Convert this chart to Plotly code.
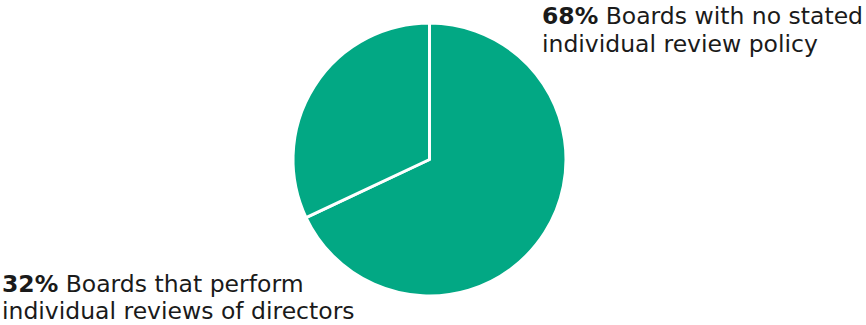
import plotly.graph_objects as go

labels = ["Boards with no stated individual review policy", "Boards that perform individual reviews of directors"]
values = [68, 32]
pct_text = ["68%", "32%"]
line1 = ["Boards with no stated", "Boards that perform"]
line2 = ["individual review policy", "individual reviews of directors"]

W, H = 866, 325
green = "#02A884"
FONT = "DejaVu Sans"
FS = 23.5

fig = go.Figure(go.Pie(
    labels=labels, values=values, sort=False, direction="clockwise", rotation=0,
    marker=dict(colors=[green, green], line=dict(color="white", width=3)),
    textinfo="none", hoverinfo="skip", showlegend=False,
    domain=dict(x=[293 / W, 566 / W], y=[(H - 296) / H, (H - 23) / H]),
))

def add_label(x_px, y1_px, y2_px, pct, l1, l2):
    fig.add_annotation(x=x_px / W, y=1 - y1_px / H, xref="paper", yref="paper",
                       xanchor="left", yanchor="middle", showarrow=False,
                       text=f"<b>{pct}</b> {l1}", font=dict(family=FONT, size=FS, color="#1a1a1a"))
    fig.add_annotation(x=x_px / W, y=1 - y2_px / H, xref="paper", yref="paper",
                       xanchor="left", yanchor="middle", showarrow=False,
                       text=l2, font=dict(family=FONT, size=FS, color="#1a1a1a"))

add_label(540, 16, 44, pct_text[0], line1[0], line2[0])
add_label(0, 284, 311, pct_text[1], line1[1], line2[1])

fig.update_layout(width=W, height=H, margin=dict(l=0, r=0, t=0, b=0),
                  paper_bgcolor="white", plot_bgcolor="white")
fig.write_html("out.html")
